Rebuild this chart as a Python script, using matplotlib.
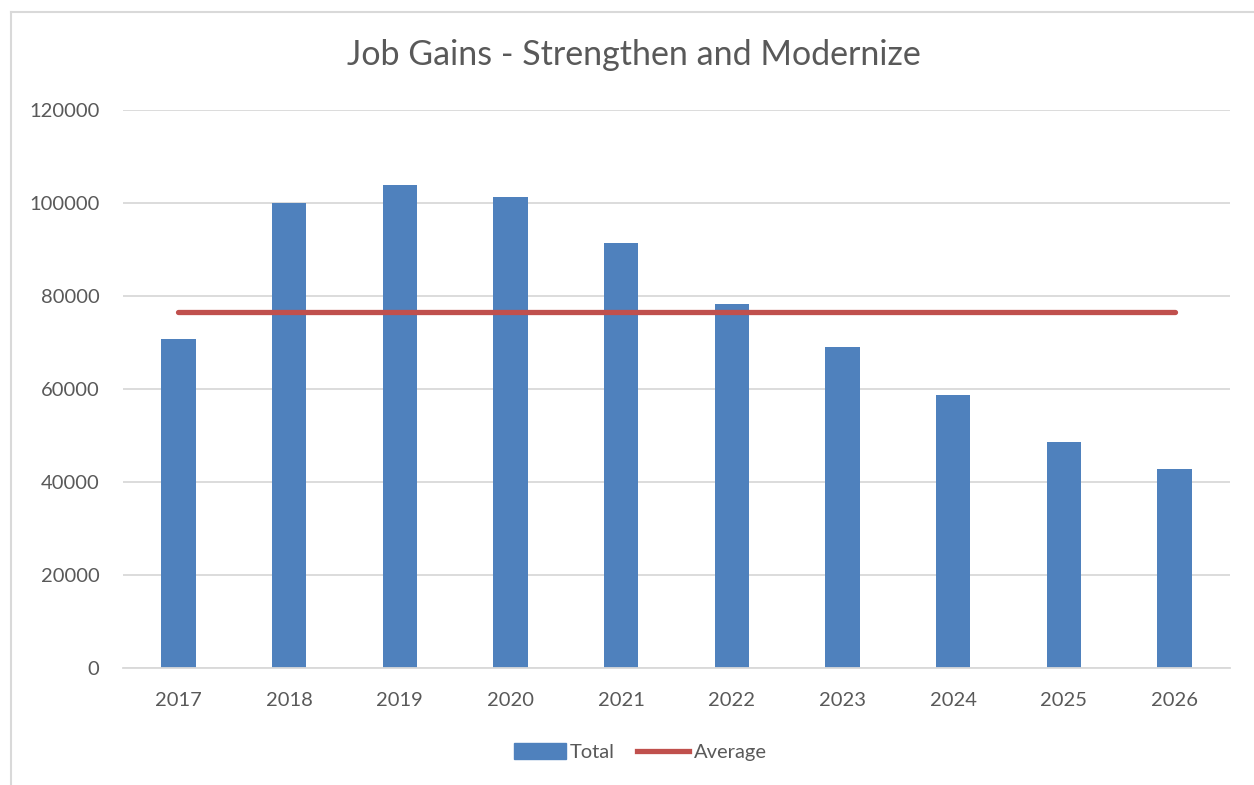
import numpy as np
import matplotlib
matplotlib.use("Agg")
import matplotlib.pyplot as plt
from matplotlib.patches import Patch
from matplotlib.lines import Line2D

plt.rcParams['font.family'] = ['Lato', 'DejaVu Sans']

#%% data
years = ['2017', '2018', '2019', '2020', '2021', '2022', '2023', '2024', '2025', '2026']
total = [70750, 100100, 103800, 101200, 91500, 78300, 69100, 58700, 48700, 42800]
average = [76495] * len(years)
yticks = [0, 20000, 40000, 60000, 80000, 100000, 120000]

bar_col = '#4F81BD'
avg_col = '#C0504D'
txt_col = '#595959'
grid_col = '#D9D9D9'

#%% figure
W, H = 1254, 785
fig = plt.figure(figsize=(W / 100, H / 100), dpi=100)
ax = fig.add_axes([123 / W, (H - 668) / H, 1107 / W, 558 / H])

x = np.arange(len(years))
ax.bar(x, total, width=0.31, color=bar_col, zorder=2)
ax.plot(x, average, color=avg_col, lw=3.8, solid_capstyle='round', zorder=3)

ax.set_xlim(-0.5, len(years) - 0.5)
ax.set_ylim(0, 120000)
ax.set_yticks(yticks)
ax.set_yticklabels([str(v) for v in yticks])
ax.set_xticks(x)
ax.set_xticklabels(years)
ax.yaxis.grid(True, color=grid_col, lw=1.3, zorder=0)
ax.tick_params(length=0, labelsize=14.5, colors=txt_col)
ax.tick_params(axis='x', pad=17)
ax.tick_params(axis='y', pad=17)
for s in ['top', 'right', 'left']:
    ax.spines[s].set_visible(False)
ax.spines['bottom'].set_color(grid_col)
ax.spines['bottom'].set_linewidth(1.3)

fig.text(634 / W, 1 - 55 / H, 'Job Gains - Strengthen and Modernize',
         ha='center', va='center', fontsize=24.5, color=txt_col)

# chart border (only left and top edges visible in the crop)
fig.add_artist(Line2D([11 / W, 11 / W], [0, 1 - 12 / H], color=grid_col, lw=1.5,
                      transform=fig.transFigure))
fig.add_artist(Line2D([11 / W, 1], [1 - 12 / H, 1 - 12 / H], color=grid_col, lw=1.5,
                      transform=fig.transFigure))

handles = [Patch(color=bar_col, label='Total'),
           Line2D([0], [0], color=avg_col, lw=3.8, label='Average')]
leg = fig.legend(handles=handles, loc='center', bbox_to_anchor=(640 / W, 1 - 752 / H),
                 ncol=2, frameon=False, fontsize=14.5, handlelength=2.6,
                 handleheight=0.8, handletextpad=0.2, columnspacing=1.1)
for t in leg.get_texts():
    t.set_color(txt_col)

fig.savefig('out.png', dpi=100)
